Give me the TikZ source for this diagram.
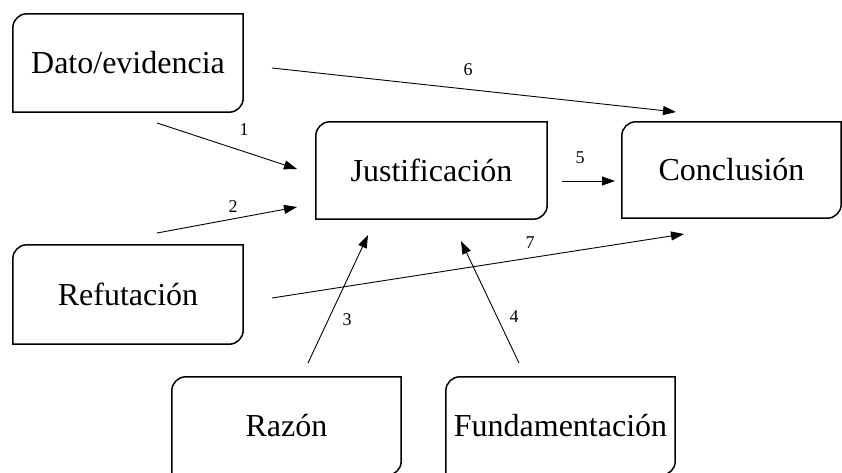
\documentclass[tikz,border=0pt]{standalone}
\usepackage{fontspec}
\setmainfont{Liberation Serif}
\usetikzlibrary{arrows.meta}
\tikzset{
  box/.style={draw=none, inner sep=0pt, font=\fontsize{32}{38}\selectfont},
  boxline/.style={line width=1.5pt, black},
  conn/.style={line width=0.9pt, black, -{Triangle[length=13pt,width=9pt]}},
  lab/.style={inner sep=0pt, font=\fontsize{18}{22}\selectfont}
}
\begin{document}
\begin{tikzpicture}[x=1pt,y=-1pt]
\useasboundingbox (0,0) rectangle (842,473);
% boxes
\node[box, minimum width=230pt, minimum height=98pt] (dato) at (128,63) {Dato/evidencia};
\node[box, minimum width=230pt, minimum height=99pt] (ref) at (128,294.5) {Refutación};
\node[box, minimum width=231pt, minimum height=97pt] (jus) at (431.5,170.5) {Justificación};
\node[box, minimum width=219pt, minimum height=96pt] (con) at (731.5,170) {Conclusión};
\node[box, minimum width=229pt, minimum height=98pt] (raz) at (286.5,426) {Razón};
\node[box, minimum width=229pt, minimum height=98pt] (fun) at (560.5,426) {Fundamentación};
\foreach \n in {dato,ref,jus,con,raz,fun}{
  \draw[boxline] (\n.north east) -- ([xshift=14pt]\n.north west)
    arc[start angle=90,end angle=180,radius=14pt] -- (\n.south west)
    -- ([xshift=-14pt]\n.south east)
    arc[start angle=270,end angle=360,radius=14pt] -- cycle;
}
% connector end points
\coordinate (s6) at (272,68);  \coordinate (t6) at (676,112);
\coordinate (s1) at (157,123); \coordinate (t1) at (297,169);
\coordinate (s2) at (157,233); \coordinate (t2) at (297,207);
\coordinate (s5) at (562,181); \coordinate (t5) at (615,181);
\coordinate (s7) at (272,298); \coordinate (t7) at (684,234);
\coordinate (s3) at (308,363); \coordinate (t3) at (368,235);
\coordinate (s4) at (519,363); \coordinate (t4) at (461,241);
\draw[conn] (s6) -- (t6);
\draw[conn] (s1) -- (t1);
\draw[conn] (s2) -- (t2);
\draw[conn] (s5) -- (t5);
\draw[conn] (s7) -- (t7);
\draw[conn] (s3) -- (t3);
\draw[conn] (s4) -- (t4);
% labels
\node[lab] (l6) at (468,70) {6};
\node[lab] (l1) at (244,130) {1};
\node[lab] (l2) at (233,207) {2};
\node[lab] (l5) at (580,158) {5};
\node[lab] (l7) at (530,243) {7};
\node[lab] (l3) at (347,320) {3};
\node[lab] (l4) at (514,317) {4};
\end{tikzpicture}
\end{document}
